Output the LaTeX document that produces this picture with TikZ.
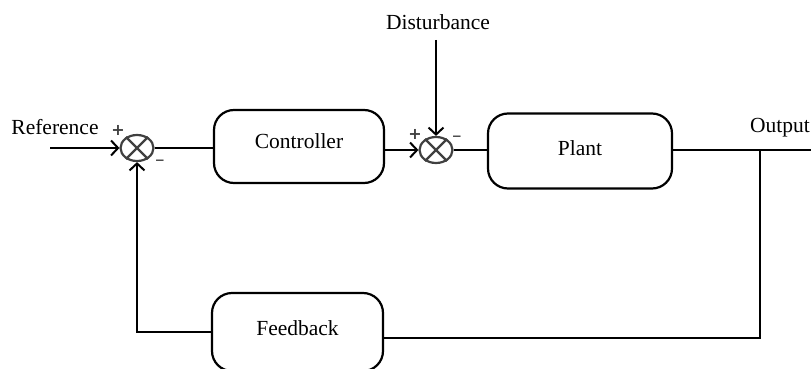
\documentclass[tikz,border=0pt]{standalone}
\usepackage{fontspec}
\setmainfont{Liberation Serif}
\newfontfamily\signfont{DejaVu Sans}
\usetikzlibrary{arrows.meta,shapes.geometric}
\begin{document}
\begin{tikzpicture}[x=1pt,y=-1pt,
  blk/.style={draw,line width=2.2pt,rounded corners=20pt,inner sep=0pt,font=\fontsize{21.5}{26}\selectfont},
  sumj/.style={draw=black!75,line width=2.2pt,ellipse,minimum width=33pt,minimum height=26pt,inner sep=0pt},
  wire/.style={line width=2.2pt},
  arr/.style={wire,-{Straight Barb[length=7pt,width=15pt,line width=2pt]}},
  lbl/.style={font=\fontsize{21.5}{26}\selectfont,inner sep=0pt},
  sgn/.style={text=black!75,font=\signfont\bfseries\fontsize{16}{16}\selectfont,inner sep=0pt},
  msgn/.style={text=black!75,font=\signfont\bfseries\fontsize{12}{12}\selectfont,inner sep=0pt}
]
\useasboundingbox (0,0) rectangle (811,369);
% blocks
\node[blk,minimum width=170pt,minimum height=73pt,text depth=10pt] (ctrl) at (299,146.5) {Controller};
\node[blk,minimum width=184pt,minimum height=75pt,text depth=6pt] (plant) at (580,151) {Plant};
\node[blk,minimum width=171pt,minimum height=78pt,text depth=8pt] (fb) at (297.5,332) {Feedback};
% summing junctions
\node[sumj] (j1) at (137,148) {};
\draw[black!75,line width=2.2pt] (j1.45) -- (j1.225) (j1.135) -- (j1.315);
\node[sumj] (j2) at (436,150) {};
\draw[black!75,line width=2.2pt] (j2.45) -- (j2.225) (j2.135) -- (j2.315);
% labels
\node[lbl] (reflbl) at (55,127) {Reference};
\node[lbl] (distlbl) at (438,22) {Disturbance};
\node[lbl] (outlbl) at (780,128) {Output};
\node[sgn] (p1) at (118,130) {+};
\node[msgn] (m1) at (160,162) {−};
\node[sgn] (p2) at (415,134) {+};
\node[msgn] (m2) at (457,138) {−};
% coordinates
\coordinate (refin) at (50,148);
\coordinate (distin) at (436,40);
\coordinate (outend) at (811,150);
\coordinate (tap) at (760,150);
% connectors
\draw[arr] (refin) -- (j1.west);
\draw[wire] (j1.east) -- (j1.east -| ctrl.west);
\draw[arr] (j2.west -| ctrl.east) -- (j2.west);
\draw[arr] (distin) -- (j2.north);
\draw[wire] (j2.east) -- (j2.east -| plant.west);
\draw[wire] (plant.east |- outend) -- (outend);
\draw[wire] (tap) |- ([yshift=-6pt]fb.east);
\draw[arr] (fb.west) -| (j1.south);
\end{tikzpicture}
\end{document}
